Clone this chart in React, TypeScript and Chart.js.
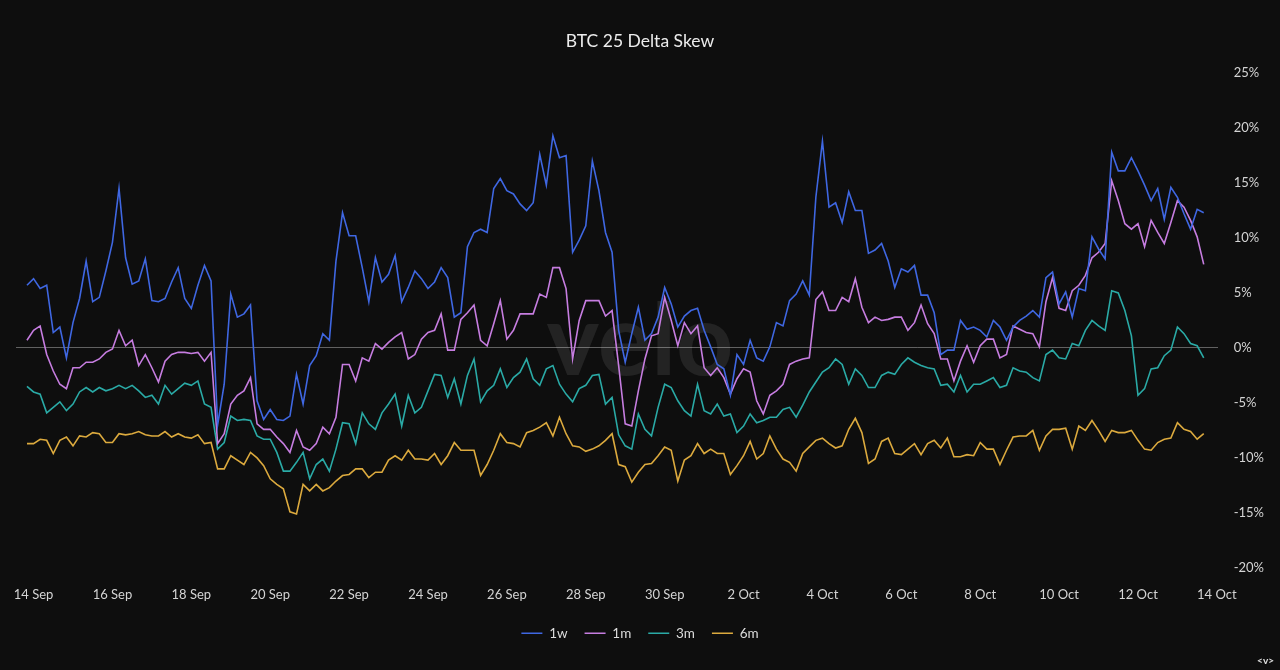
import React, { useEffect, useRef } from "react";
import { Chart, registerables } from "chart.js";

Chart.register(...registerables);

// time axis: days since 14 Sep 00:00, one reading every 4 hours starting 13 Sep 20:00
const START_DAY = -1 / 6;
const STEP_DAY = 1 / 6;

const tickLabels = [
  "14 Sep", "16 Sep", "18 Sep", "20 Sep", "22 Sep", "24 Sep", "26 Sep", "28 Sep",
  "30 Sep", "2 Oct", "4 Oct", "6 Oct", "8 Oct", "10 Oct", "12 Oct", "14 Oct",
];
const tickDays = [0, 2, 4, 6, 8, 10, 12, 14, 16, 18, 20, 22, 24, 26, 28, 30];

const seriesNames = ["1w", "1m", "3m", "6m"];
const seriesColors = ["#3f67e2", "#c67de0", "#2aaaa6", "#dcaa3e"];

const skew1w = [
  5.7, 6.3, 5.4, 5.7, 1.4, 1.9, -0.9, 2.3, 4.5, 7.9,
  4.2, 4.6, 7.0, 9.6, 14.5, 8.2, 5.8, 6.1, 8.1, 4.3,
  4.2, 4.5, 6.0, 7.3, 4.5, 3.6, 5.7, 7.5, 6.1, -7.0,
  -3.3, 4.9, 2.8, 3.1, 3.9, -4.8, -6.5, -5.6, -6.5, -6.6,
  -6.2, -2.4, -5.1, -1.6, -0.7, 1.3, 0.7, 7.9, 12.3, 10.2,
  10.2, 7.3, 4.2, 8.2, 6.0, 6.7, 8.4, 4.2, 5.5, 7.0,
  6.3, 5.4, 6.0, 7.3, 6.4, 2.8, 3.2, 9.2, 10.5, 10.8,
  10.5, 14.5, 15.4, 14.3, 14.0, 13.1, 12.5, 13.2, 17.6, 14.8,
  19.3, 17.3, 17.5, 8.7, 9.8, 11.1, 17.0, 14.3, 10.5, 8.7,
  1.6, -1.3, 1.3, 3.7, 0.7, 1.3, 2.8, 5.5, 4.0, 1.9,
  2.9, 3.4, 3.6, 1.6, 0.1, -1.5, -1.9, -4.3, -0.6, -1.5,
  0.7, -0.9, -1.2, 0.1, 2.3, 2.0, 4.3, 4.9, 6.1, 4.8,
  13.7, 18.8, 12.8, 13.2, 11.4, 14.2, 12.5, 12.5, 8.6, 8.9,
  9.5, 7.9, 5.5, 7.2, 6.9, 7.5, 4.8, 4.8, 3.2, -0.6,
  -0.2, -0.2, 2.5, 1.7, 1.9, 1.6, 1.0, 2.5, 1.9, 0.7,
  1.9, 2.5, 2.9, 3.4, 2.8, 6.4, 6.9, 4.0, 5.1, 2.8,
  5.4, 5.2, 10.1, 9.0, 8.1, 17.8, 16.1, 16.1, 17.3, 16.1,
  14.8, 13.4, 14.5, 11.7, 14.6, 13.7, 12.2, 10.8, 12.6, 12.3,
];

const skew1m = [
  0.7, 1.6, 2.0, -0.6, -2.1, -3.3, -3.7, -1.8, -1.8, -1.3,
  -1.3, -1.0, -0.4, -0.1, 1.6, 0.2, 0.7, -1.6, -0.6, -1.8,
  -3.1, -1.2, -0.6, -0.4, -0.4, -0.5, -0.4, -1.2, -0.4, -8.7,
  -7.8, -5.1, -4.3, -3.9, -2.7, -6.9, -7.4, -7.4, -8.1, -8.7,
  -9.5, -7.5, -9.0, -9.3, -8.7, -7.2, -7.8, -6.3, -1.5, -1.5,
  -3.0, -0.9, -1.2, 0.4, -0.1, 0.5, 1.0, 1.4, -1.0, -0.6,
  0.8, 1.4, 1.6, 3.1, -0.2, -0.2, 2.6, 3.2, 3.9, 0.7,
  0.2, 2.2, 4.3, 0.8, 1.6, 3.1, 3.1, 3.1, 4.9, 4.6,
  7.3, 7.3, 5.4, -1.0, 2.5, 4.3, 4.3, 4.3, 2.9, 3.4,
  -1.6, -6.9, -7.1, -3.9, -1.0, 1.1, 1.3, 4.6, 2.5, 0.2,
  2.3, 1.3, 2.0, -1.8, -2.5, -1.8, -2.7, -4.2, -2.8, -1.9,
  -2.2, -4.8, -6.0, -4.3, -3.9, -3.3, -1.5, -1.2, -1.0, -0.9,
  4.4, 5.1, 3.4, 3.4, 4.6, 4.2, 6.3, 3.7, 2.3, 2.8,
  2.5, 2.6, 2.8, 2.8, 1.6, 2.3, 3.9, 2.2, 1.3, -1.0,
  -1.0, -3.0, -1.2, 0.2, -1.3, 0.2, 0.8, 0.8, -0.9, -0.6,
  2.0, 1.7, 1.4, 1.3, 0.1, 4.2, 6.4, 3.6, 3.4, 5.2,
  5.7, 6.6, 8.2, 8.7, 9.5, 15.2, 13.4, 11.3, 10.8, 11.3,
  9.2, 11.6, 10.5, 9.5, 11.4, 13.4, 12.8, 11.6, 10.1, 7.6,
];

const skew3m = [
  -3.5, -4.0, -4.2, -5.9, -5.4, -4.9, -5.7, -5.1, -4.0, -3.6,
  -4.0, -3.6, -3.9, -3.7, -3.4, -3.7, -3.4, -3.9, -4.5, -4.3,
  -5.1, -3.4, -4.2, -3.7, -3.2, -3.4, -3.0, -5.1, -5.4, -9.2,
  -8.6, -6.2, -6.6, -6.5, -6.6, -8.0, -8.3, -8.3, -9.5, -11.2,
  -11.2, -10.4, -9.5, -11.9, -10.6, -10.1, -11.2, -9.2, -6.8, -6.9,
  -8.7, -5.9, -6.9, -7.4, -5.9, -5.1, -4.2, -7.1, -4.3, -5.9,
  -5.4, -3.9, -2.4, -2.5, -4.5, -2.8, -5.1, -2.5, -1.0, -4.9,
  -3.9, -3.4, -1.9, -3.6, -2.7, -2.2, -1.0, -2.8, -3.4, -1.9,
  -1.6, -3.3, -4.2, -4.9, -3.7, -3.4, -2.5, -2.4, -5.1, -4.5,
  -7.9, -8.9, -9.2, -6.0, -7.4, -8.0, -5.4, -3.3, -3.6, -4.8,
  -5.7, -6.2, -3.3, -5.7, -6.0, -5.1, -6.2, -6.0, -7.7, -7.1,
  -6.0, -6.8, -6.6, -6.3, -6.3, -5.6, -5.4, -6.3, -5.2, -4.0,
  -3.1, -2.2, -1.8, -1.0, -1.5, -3.3, -1.9, -2.5, -3.6, -3.6,
  -2.5, -2.2, -2.4, -1.5, -0.9, -1.3, -1.6, -1.8, -1.9, -3.4,
  -3.3, -4.0, -2.5, -4.0, -3.3, -3.3, -3.0, -2.7, -3.6, -3.4,
  -1.8, -2.1, -2.2, -2.7, -3.0, -0.6, -0.2, -0.9, -1.0, 0.4,
  0.2, 1.6, 2.5, 2.0, 1.6, 5.2, 5.0, 3.4, 1.1, -4.3,
  -3.7, -1.9, -1.8, -0.7, -0.2, 1.9, 1.3, 0.4, 0.2, -0.9,
];

const skew6m = [
  -8.7, -8.7, -8.3, -8.4, -9.6, -8.4, -8.1, -8.9, -8.0, -8.1,
  -7.7, -7.8, -8.6, -8.6, -7.8, -7.9, -7.8, -7.6, -7.9, -8.0,
  -8.0, -7.6, -8.1, -7.8, -8.1, -8.2, -7.9, -8.7, -8.6, -11.0,
  -11.0, -9.8, -10.2, -10.6, -9.5, -10.0, -10.7, -11.9, -12.4, -12.8,
  -14.9, -15.1, -12.4, -13.0, -12.4, -13.0, -12.7, -12.1, -11.6, -11.5,
  -11.0, -11.0, -11.8, -11.3, -11.3, -10.2, -9.8, -10.2, -9.3, -10.1,
  -10.1, -10.2, -9.6, -10.6, -9.8, -8.6, -9.3, -9.3, -9.3, -11.6,
  -10.6, -9.3, -7.8, -8.6, -8.7, -9.0, -7.7, -7.5, -7.2, -6.8,
  -8.0, -6.3, -7.8, -8.9, -9.0, -9.4, -9.2, -8.9, -8.4, -7.8,
  -10.6, -10.8, -12.2, -11.3, -10.6, -10.5, -9.8, -9.0, -9.3, -12.1,
  -10.2, -9.8, -8.7, -9.6, -9.2, -9.6, -9.6, -11.5, -10.7, -9.8,
  -8.5, -10.1, -9.6, -8.0, -9.2, -10.1, -10.4, -11.2, -9.6, -9.0,
  -8.4, -8.2, -8.7, -9.1, -8.9, -7.4, -6.4, -7.7, -10.5, -10.1,
  -8.5, -8.2, -9.6, -9.7, -9.2, -8.7, -9.7, -8.7, -8.4, -9.1,
  -8.2, -9.9, -9.9, -9.7, -9.8, -8.6, -9.2, -9.2, -10.6, -9.3,
  -8.1, -8.0, -8.0, -7.5, -9.3, -8.0, -7.4, -7.4, -7.3, -9.2,
  -7.1, -7.5, -6.6, -7.5, -8.5, -7.5, -7.7, -7.7, -7.5, -8.4,
  -9.2, -9.3, -8.6, -8.3, -8.2, -6.8, -7.4, -7.6, -8.3, -7.8,
];

const yTicks = [-20, -15, -10, -5, 0, 5, 10, 15, 20, 25];

const FONT = "Lato, 'Noto Sans', sans-serif";
const BG = "#0e0e0e";

const watermark = {
  id: "watermark",
  beforeDatasetsDraw(chart: any) {
    const { ctx } = chart;
    ctx.save();
    ctx.font = `bold 100px ${FONT}`;
    ctx.fillStyle = "rgba(255,255,255,0.09)";
    ctx.textAlign = "center";
    ctx.textBaseline = "middle";
    ctx.fillText("velo", 640, 343);
    ctx.restore();
  },
};

export default function App() {
  const ref = useRef<HTMLCanvasElement | null>(null);

  useEffect(() => {
    if (!ref.current) return;
    const all = [skew1w, skew1m, skew3m, skew6m];
    const datasets = all.map((vals, k) => ({
      label: seriesNames[k],
      data: vals.map((v, i) => ({ x: START_DAY + i * STEP_DAY, y: v })),
      borderColor: seriesColors[k],
      backgroundColor: seriesColors[k],
      borderWidth: 1.6,
      pointRadius: 0,
      tension: 0,
      fill: false,
    }));

    const chart = new Chart(ref.current, {
      type: "line",
      data: { datasets },
      plugins: [watermark],
      options: {
        animation: false,
        responsive: false,
        maintainAspectRatio: false,
        layout: { padding: { left: 0, right: 0, top: 0, bottom: 20 } },
        plugins: {
          tooltip: { enabled: false },
          title: {
            display: true,
            text: "BTC 25 Delta Skew",
            color: "#ececec",
            font: { family: FONT, size: 17.5, weight: "normal" },
            padding: { top: 31, bottom: 21 },
          },
          legend: {
            position: "bottom",
            labels: {
              color: "#dcdcdc",
              font: { family: FONT, size: 13.5 },
              usePointStyle: true,
              pointStyle: "line",
              pointStyleWidth: 21,
              boxHeight: 10,
              padding: 17,
            },
          },
        },
        scales: {
          x: {
            type: "linear",
            min: -0.445,
            max: 30.02,
            afterBuildTicks: (axis: any) => {
              axis.ticks = tickDays.map((d) => ({ value: d }));
            },
            afterFit: (axis: any) => {
              axis.height -= 12;
              axis.paddingLeft = 16;
              axis.paddingRight = 0;
            },
            grid: { display: false, drawTicks: false },
            border: { display: false },
            ticks: {
              color: "#d4d4d4",
              font: { family: FONT, size: 13 },
              maxRotation: 0,
              autoSkip: false,
              padding: 19,
              callback: (v: any) => {
                const k = tickDays.indexOf(Number(v));
                return k >= 0 ? tickLabels[k] : "";
              },
            },
          },
          y: {
            position: "right",
            min: -20,
            max: 25,
            afterBuildTicks: (axis: any) => {
              axis.ticks = yTicks.map((v) => ({ value: v }));
            },
            grid: {
              drawTicks: false,
              color: (c: any) => (c.tick && c.tick.value === 0 ? "rgba(200,200,200,0.45)" : "rgba(0,0,0,0)"),
              lineWidth: 1,
            },
            border: { display: false },
            ticks: {
              color: "#d4d4d4",
              font: { family: FONT, size: 13 },
              padding: 16,
              callback: (v: any) => `${v}%`,
            },
          },
        },
      },
    });
    return () => chart.destroy();
  }, []);

  return (
    <div
      style={{
        position: "fixed",
        left: 0,
        top: 0,
        width: 1280,
        height: 670,
        background: BG,
        overflow: "hidden",
      }}
    >
      <canvas ref={ref} width={1280} height={670} style={{ display: "block" }} />
      <span
        style={{
          position: "absolute",
          right: 6,
          bottom: 4,
          color: "#e0e0e0",
          fontFamily: FONT,
          fontSize: 10,
          fontWeight: "bold",
        }}
      >
        {"<v>"}
      </span>
    </div>
  );
}
